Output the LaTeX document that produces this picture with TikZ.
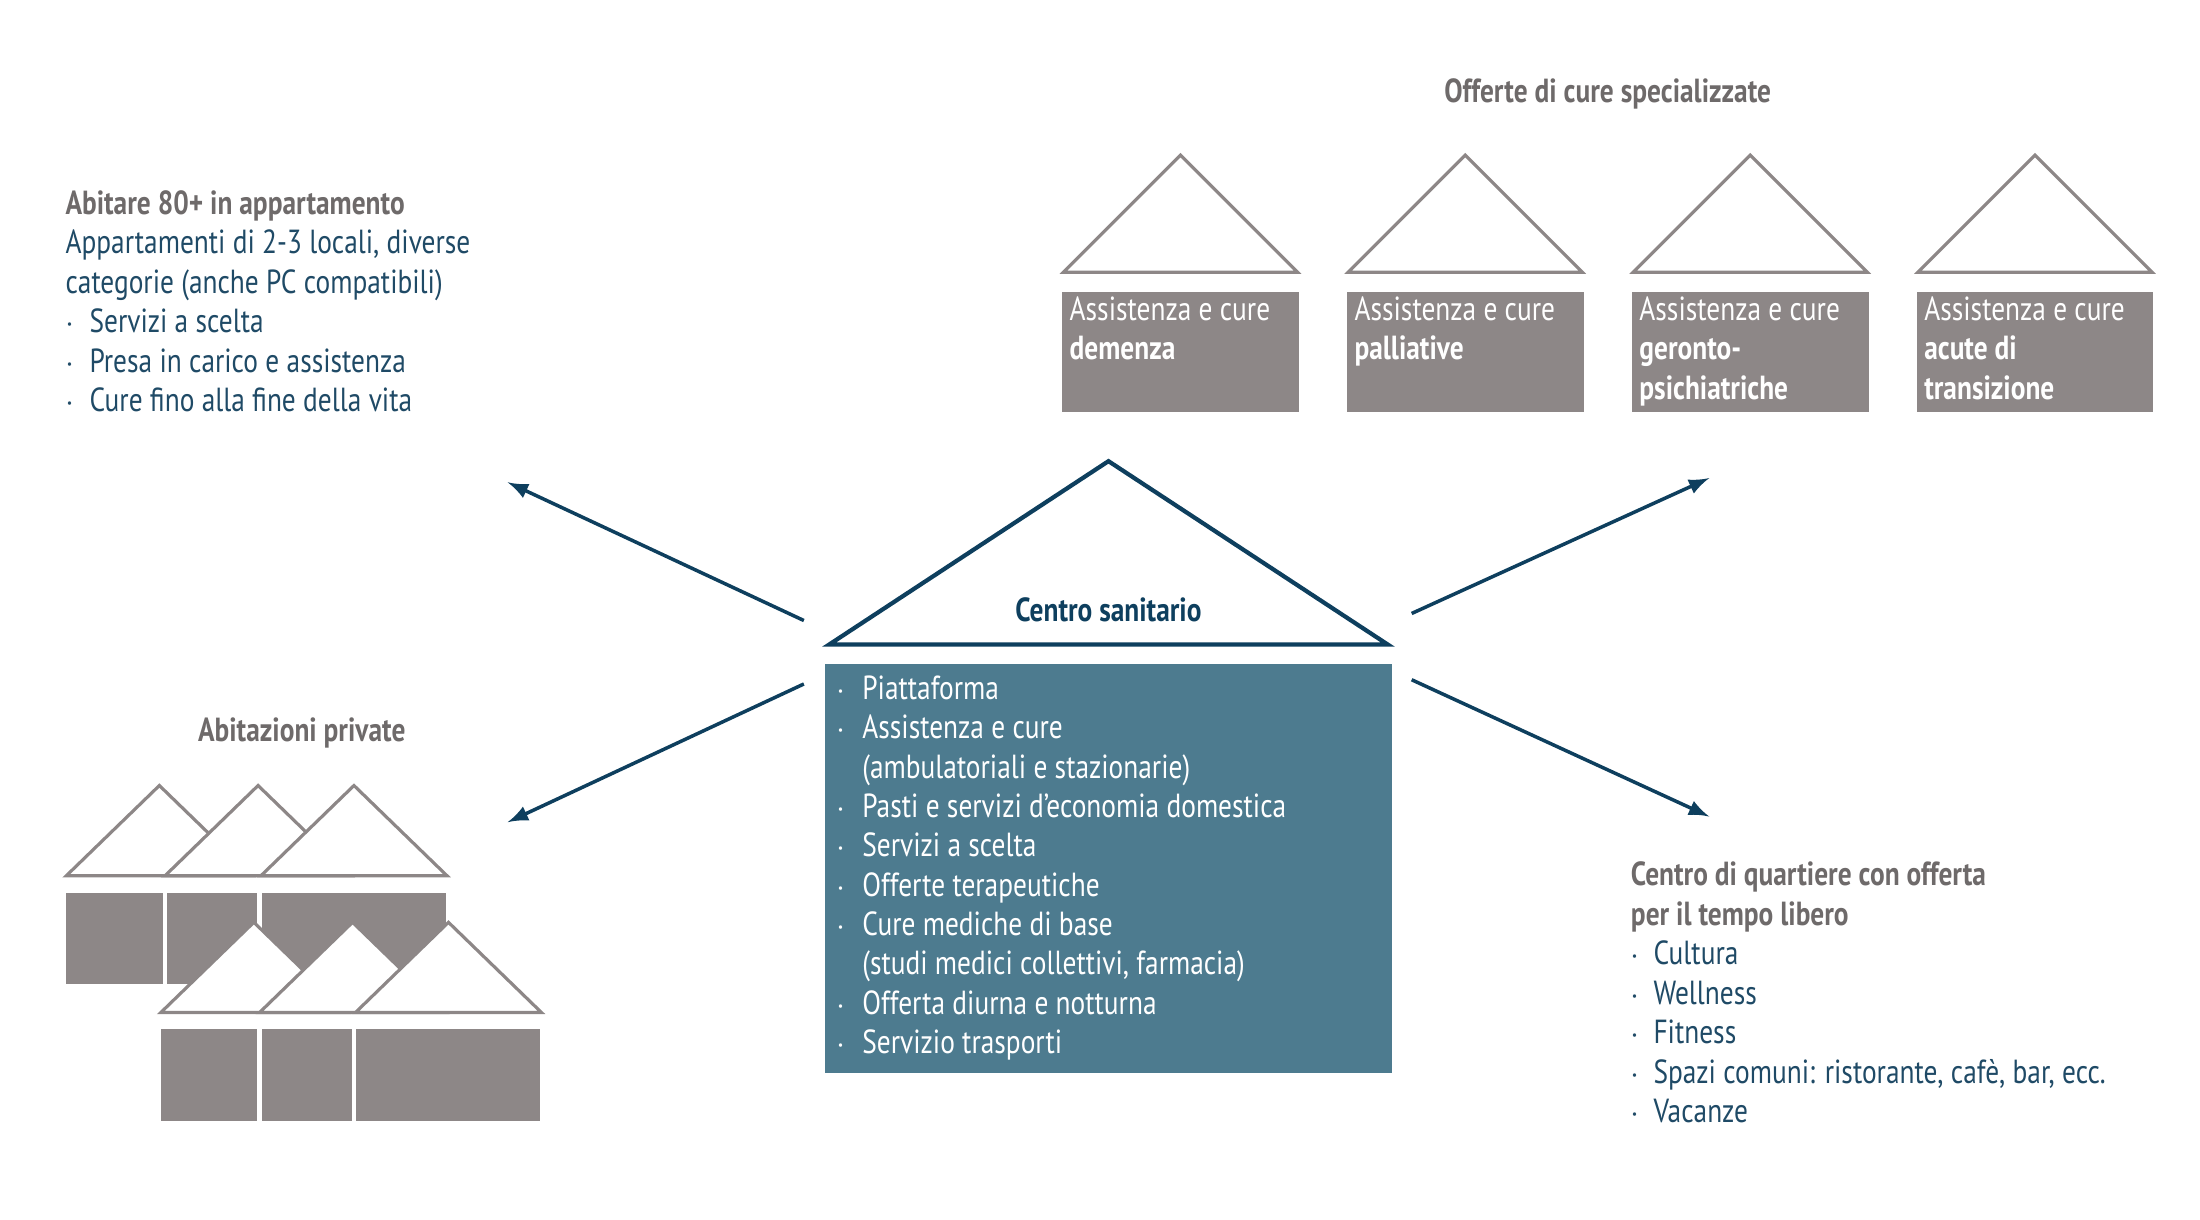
\documentclass[tikz,border=0pt]{standalone}
\usepackage{fontspec}
\setmainfont{PT Sans}[FakeStretch=0.82]
\usepackage{tikz}
\definecolor{navy}{HTML}{0E3F5E}
\definecolor{teal}{HTML}{4D7B8F}
\definecolor{stone}{HTML}{8D8787}
\definecolor{greytext}{HTML}{6E6A6A}
\definecolor{bluetext}{HTML}{1F4A66}
\begin{document}
\begin{tikzpicture}[x=0.0141cm, y=-0.0141cm, font=\fontsize{9.5}{11}\selectfont,
  txt/.style={anchor=base west, inner sep=0},
  head/.style={txt, text=greytext, font=\fontsize{9.5}{11}\selectfont\bfseries},
  roof/.style={draw=stone, line width=0.9pt, fill=white},
  arr/.style={->, >=latex, draw=navy, line width=1pt}]
\useasboundingbox (0,0) rectangle (1560,865);
% specialised care
\node[head, anchor=base] (spectitle) at (1140,73) {Offerte di cure specializzate};
\foreach \x/\a/\b/\n in {837/demenza//dem, 1039/palliative//pal, 1241/geronto-/psichiatriche/ger, 1443/acute di/transizione/acu} {
  \draw[roof] (\x-83,193) -- (\x,110) -- (\x+83,193) -- cycle;
  \fill[stone] (\x-84,207) rectangle (\x+84,292);
  \node[txt, text=white] (\n1) at (\x-79,227) {Assistenza e cure};
  \node[txt, text=white, font=\fontsize{9.5}{11}\selectfont\bfseries] (\n2) at (\x-79,255) {\a};
  \node[txt, text=white, font=\fontsize{9.5}{11}\selectfont\bfseries] (\n3) at (\x-79,283) {\b};
}
% apartments
\node[head] (apttitle) at (46,152) {Abitare 80+ in appartamento};
\node[txt, text=bluetext] (apt1) at (46,180) {Appartamenti di 2-3 locali, diverse};
\node[txt, text=bluetext] (apt2) at (46,208) {categorie (anche PC compatibili)};
\foreach \t [count=\i] in {Servizi a scelta, Presa in carico e assistenza, Cure fino alla fine della vita} {
  \node[txt, text=bluetext] (aptb\i) at (46,208+28*\i) {$\cdot$};
  \node[txt, text=bluetext] (aptl\i) at (63,208+28*\i) {\t};
}
% centre
\draw[draw=navy, line width=1.2pt] (588,457) -- (786,327) -- (984,457) -- cycle;
\node[anchor=base, inner sep=0, text=navy, font=\fontsize{9.5}{11}\selectfont\bfseries] (centre) at (786,441) {Centro sanitario};
\fill[teal] (585,471) rectangle (987,761);
\foreach \t [count=\i] in {Piattaforma, Assistenza e cure, (ambulatoriali e stazionarie), Pasti e servizi d’economia domestica, Servizi a scelta, Offerte terapeutiche, Cure mediche di base, (studi medici collettivi{,} farmacia), Offerta diurna e notturna, Servizio trasporti} {
  \node[txt, text=white] (cl\i) at (611,468+27.9*\i) {\t};
}
\foreach \i in {1,2,4,5,6,7,9,10}
  \node[txt, text=white] (cb\i) at (593,468+27.9*\i) {$\cdot$};
% arrows
\coordinate (ul) at (360,342); \coordinate (ur) at (1212,339);
\coordinate (ll) at (360,583); \coordinate (lr) at (1212,579);
\draw[arr] (570,440) -- (ul);
\draw[arr] (1001,435) -- (ur);
\draw[arr] (570,485) -- (ll);
\draw[arr] (1001,482) -- (lr);
% private homes
\node[head, anchor=base] (privtitle) at (214,526) {Abitazioni private};
\foreach \dx/\dy in {0/0, 67/97} {
  \foreach \ax in {113,183,251}
    \draw[roof] (\ax-66+\dx,621+\dy) -- (\ax+\dx,557+\dy) -- (\ax+66+\dx,621+\dy) -- cycle;
  \fill[stone] (47+\dx,633+\dy) rectangle (316+\dx,698+\dy);
  \draw[white, line width=1.2pt] (117+\dx,633+\dy) -- (117+\dx,698+\dy) (184+\dx,633+\dy) -- (184+\dx,698+\dy);
}
% neighbourhood centre
\node[head] (quartitle1) at (1156,628) {Centro di quartiere con offerta};
\node[head] (quartitle2) at (1156,656) {per il tempo libero};
\foreach \t [count=\i] in {Cultura, Wellness, Fitness, Spazi comuni: ristorante{,} cafè{,} bar{,} ecc., Vacanze} {
  \node[txt, text=bluetext] (qb\i) at (1156,656+28*\i) {$\cdot$};
  \node[txt, text=bluetext] (ql\i) at (1172,656+28*\i) {\t};
}
\end{tikzpicture}
\end{document}
